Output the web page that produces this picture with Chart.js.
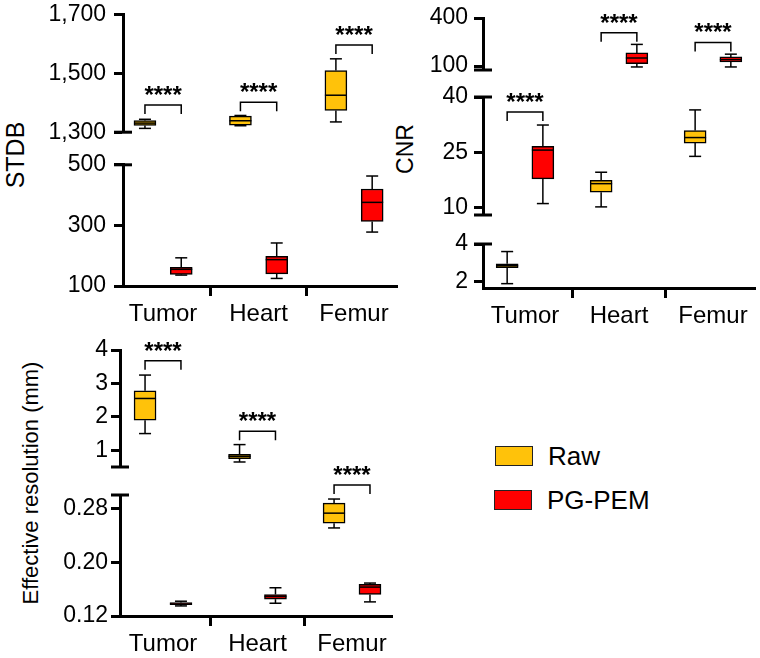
<!DOCTYPE html>
<html>
<head>
<meta charset="utf-8">
<script src="https://cdn.jsdelivr.net/npm/chart.js@4.4.1/dist/chart.umd.min.js"></script>
<style>
  html, body { margin: 0; padding: 0; background: #fff; }
  body { width: 760px; height: 658px; position: relative; overflow: hidden;
         font-family: "Liberation Sans", Arial, sans-serif; color: #000; }
  .seg { position: absolute; }
  .ytitle { position: absolute; transform: translate(-50%, -50%) rotate(-90deg); white-space: nowrap; }
  .legend-item { position: absolute; display: flex; align-items: center; font-size: 26px; }
  .swatch { width: 38px; height: 20px; border: 1.5px solid #222; box-sizing: border-box; margin-right: 15px; }
</style>
</head>
<body>
<div class="ytitle" style="left:15px; top:155px; font-size:25px;">STDB</div>
<div class="ytitle" style="left:405px; top:149px; font-size:23px;">CNR</div>
<div class="ytitle" style="left:31px; top:483px; font-size:22px;">Effective resolution (mm)</div>

<div class="legend-item" style="left:495px; top:441px; height:30px;"><div class="swatch" style="background:#FFC20A"></div>Raw</div>
<div class="legend-item" style="left:494px; top:485px; height:30px;"><div class="swatch" style="background:#FF0000"></div>PG-PEM</div>

<script>
// ---- data --------------------------------------------------------------
const categories = ["Tumor", "Heart", "Femur"];

// box stats per category: [min, q1, median, q3, max]
const stdbRaw   = [[1313, 1323, 1331, 1340, 1344], [1322, 1324, 1339, 1355, 1357], [1335, 1374, 1426, 1510, 1550]];
const stdbPgPem = [[136, 138, 155, 162, 193], [125, 140, 187, 198, 242], [278, 313, 376, 420, 463]];
const stdbBrackets = [1393, 1402, 1597];
const stdbTopTicks = [1300, 1500, 1700];
const stdbBottomTicks = [100, 300, 500];

const cnrRaw   = [[1.9, 2.75, 2.85, 2.95, 3.6], [10.2, 14.2, 16.5, 17.4, 19.6], [23.9, 27.5, 29, 30.9, 36.5]];
const cnrPgPem = [[11.1, 17.8, 25.6, 26.6, 32.4], [94, 115, 150, 182, 235], [94, 125, 140, 157, 174]];
const cnrBrackets = [35.9, 308, 247];
const cnrTopTicks = [100, 400];
const cnrMidTicks = [10, 25, 40];
const cnrBottomTicks = [2, 4];

const resRaw   = [[1.5, 1.9, 2.55, 2.78, 3.25], [0.65, 0.75, 0.82, 0.88, 1.17], [0.251, 0.258, 0.273, 0.288, 0.294]];
const resPgPem = [[0.135, 0.137, 0.138, 0.140, 0.142], [0.139, 0.145, 0.149, 0.152, 0.162], [0.141, 0.152, 0.163, 0.167, 0.169]];
const resBrackets = [3.68, 1.57, 0.315];
const resTopTicks = [1, 2, 3, 4];
const resBottomTicks = [0.12, 0.20, 0.28];

// ---- styles ------------------------------------------------------------
const RAW_COLOR = "#FFC20A";
const PG_COLOR = "#FF0000";
const RAW_OFF = -0.19;
const PG_OFF = 0.19;
const FONT = '"Liberation Sans", Arial, sans-serif';

const comma = (v) => String(v).replace(/\B(?=(\d{3})+(?!\d))/g, ",");

// each panel = one broken y axis made of stacked segments
const panels = [
  {
    raw: stdbRaw, pg: stdbPgPem, brackets: stdbBrackets,
    left: 0, axisX: 123, right: 397, xMin: -0.42, xMax: 2.45, tickPad: 8, fmt: comma,
    segs: [
      { ticks: stdbTopTicks, min: 1300, max: 1700, yTop: 13, yBot: 134 },
      { ticks: stdbBottomTicks, min: 100, max: 500, yTop: 163, yBot: 286 },
    ],
  },
  {
    raw: cnrRaw, pg: cnrPgPem, brackets: cnrBrackets,
    left: 400, axisX: 483, right: 755, xMin: -0.447, xMax: 2.447, tickPad: 6, fmt: (v) => String(v),
    segs: [
      { ticks: cnrTopTicks, min: 75, max: 400, yTop: 18, yBot: 69.7 },
      { ticks: cnrMidTicks, min: 8, max: 40, yTop: 97, yBot: 215.4 },
      { ticks: cnrBottomTicks, min: 1.67, max: 4, yTop: 244, yBot: 288 },
    ],
  },
  {
    raw: resRaw, pg: resPgPem, brackets: resBrackets,
    left: 0, axisX: 120, right: 392, xMin: -0.455, xMax: 2.423, tickPad: 3,
    fmt: (v) => (v >= 1 ? String(v) : v.toFixed(2)),
    segs: [
      { ticks: resTopTicks, min: 0.5, max: 4, yTop: 350, yBot: 466.7 },
      { ticks: resBottomTicks, min: 0.12, max: 0.30, yTop: 495, yBot: 615.7, padTop: 40 },
    ],
  },
];

// boxes whose median falls inside the segment range
function pointsIn(stats, off, seg) {
  const out = [];
  stats.forEach((s, i) => {
    if (s[2] >= seg.min && s[2] <= seg.max) out.push({ x: i + off, y: [s[1], s[3]], stats: s });
  });
  return out;
}

// which segment a significance bracket is drawn in
function bracketSeg(panel, v) {
  let best = -1;
  panel.segs.forEach((s, k) => { if (v >= s.min && v <= s.max) best = k; });
  if (best < 0) {
    let bm = -Infinity;
    panel.segs.forEach((s, k) => { if (s.max < v && s.max > bm) { bm = s.max; best = k; } });
  }
  return best;
}

// whiskers, medians, brackets and axis break caps
function makeSegPlugin(info) {
  return {
    id: "boxExtras",
    afterDatasetsDraw(chart) {
      const { ctx, scales: { x, y }, chartArea } = chart;
      const line = (x1, y1, x2, y2) => { ctx.beginPath(); ctx.moveTo(x1, y1); ctx.lineTo(x2, y2); ctx.stroke(); };
      ctx.save();
      ctx.strokeStyle = "#000";
      ctx.lineWidth = 1.5;

      chart.data.datasets.forEach((ds, di) => {
        const meta = chart.getDatasetMeta(di);
        meta.data.forEach((bar, j) => {
          const s = ds.data[j].stats;
          const cx = bar.x, hw = bar.width / 2;
          const yMin = y.getPixelForValue(s[0]), yQ1 = y.getPixelForValue(s[1]);
          const yMed = y.getPixelForValue(s[2]);
          const yQ3 = y.getPixelForValue(s[3]), yMax = y.getPixelForValue(s[4]);
          line(cx, yQ3, cx, yMax);
          line(cx, yQ1, cx, yMin);
          line(cx - 6, yMax, cx + 6, yMax);
          line(cx - 6, yMin, cx + 6, yMin);
          line(cx - hw, yMed, cx + hw, yMed);
        });
      });

      // significance brackets
      info.brackets.forEach((b) => {
        const x1 = x.getPixelForValue(b.i + RAW_OFF);
        const x2 = x.getPixelForValue(b.i + PG_OFF);
        const yb = y.getPixelForValue(b.v);
        ctx.beginPath();
        ctx.moveTo(x1, yb + 9);
        ctx.lineTo(x1, yb);
        ctx.lineTo(x2, yb);
        ctx.lineTo(x2, yb + 9);
        ctx.stroke();
        ctx.fillStyle = "#000";
        ctx.font = "bold 24px " + FONT;
        ctx.textAlign = "center";
        ctx.textBaseline = "alphabetic";
        ctx.fillText("****", (x1 + x2) / 2, yb - 2);
      });

      // break caps on the axis
      ctx.lineWidth = 3;
      const ax = chartArea.left;
      if (info.capTop) line(ax - 9, chartArea.top, ax + 9, chartArea.top);
      if (info.capBottom) line(ax - 9, chartArea.bottom, ax + 9, chartArea.bottom);
      ctx.restore();
    },
  };
}

function axisStyle(len) {
  return {
    grid: { drawOnChartArea: false, drawTicks: true, tickLength: len, tickWidth: 3, tickColor: "#000" },
    border: { display: true, width: 3, color: "#000" },
  };
}

function buildSegment(panel, seg, si) {
  const n = panel.segs.length;
  const isBottom = si === n - 1;
  const padTop = seg.padTop || 20;
  const padBottom = 20;
  const padRight = 12;
  const xAxisH = 45;
  const top = seg.yTop - padTop;
  const height = Math.round(seg.yBot - top + (isBottom ? xAxisH : padBottom));
  const width = panel.right + padRight - panel.left;

  const holder = document.createElement("div");
  holder.className = "seg";
  holder.style.left = panel.left + "px";
  holder.style.top = top + "px";
  const canvas = document.createElement("canvas");
  canvas.width = width;
  canvas.height = height;
  holder.appendChild(canvas);
  document.body.appendChild(holder);

  const brackets = [];
  panel.brackets.forEach((v, i) => { if (bracketSeg(panel, v) === si) brackets.push({ i, v }); });

  const xStyle = axisStyle(10);
  const yStyle = axisStyle(9);

  new Chart(canvas, {
    type: "bar",
    data: {
      datasets: [
        {
          label: "Raw",
          data: pointsIn(panel.raw, RAW_OFF, seg),
          backgroundColor: RAW_COLOR,
          borderColor: "#000",
          borderWidth: 1.5,
          borderSkipped: false,
          barThickness: 22,
          grouped: false,
        },
        {
          label: "PG-PEM",
          data: pointsIn(panel.pg, PG_OFF, seg),
          backgroundColor: PG_COLOR,
          borderColor: "#000",
          borderWidth: 1.5,
          borderSkipped: false,
          barThickness: 22,
          grouped: false,
        },
      ],
    },
    options: {
      responsive: false,
      animation: false,
      devicePixelRatio: 1,
      layout: { padding: { top: padTop, bottom: isBottom ? 0 : padBottom, left: 0, right: padRight } },
      plugins: { legend: { display: false }, tooltip: { enabled: false } },
      scales: {
        x: {
          type: "linear",
          min: panel.xMin,
          max: panel.xMax,
          offset: false,
          display: isBottom,
          afterBuildTicks: (s) => { s.ticks = categories.map((c, i) => ({ value: i })); },
          afterFit: (s) => { s.height = isBottom ? xAxisH : 0; },
          ticks: {
            callback: (v) => categories[v],
            color: "#000",
            font: { family: FONT, size: 24 },
            padding: 4,
            maxRotation: 0,
            autoSkip: false,
          },
          grid: xStyle.grid,
          border: xStyle.border,
        },
        y: {
          type: "linear",
          min: seg.min,
          max: seg.max,
          afterBuildTicks: (s) => { s.ticks = seg.ticks.map((v) => ({ value: v })); },
          afterFit: (s) => { s.width = panel.axisX - panel.left; },
          ticks: {
            callback: (v) => panel.fmt(v),
            color: "#000",
            font: { family: FONT, size: 23 },
            padding: panel.tickPad,
            autoSkip: false,
          },
          grid: yStyle.grid,
          border: yStyle.border,
        },
      },
    },
    plugins: [makeSegPlugin({ brackets, capTop: si > 0, capBottom: !isBottom })],
  });
}

panels.forEach((p) => p.segs.forEach((s, si) => buildSegment(p, s, si)));
</script>
</body>
</html>
